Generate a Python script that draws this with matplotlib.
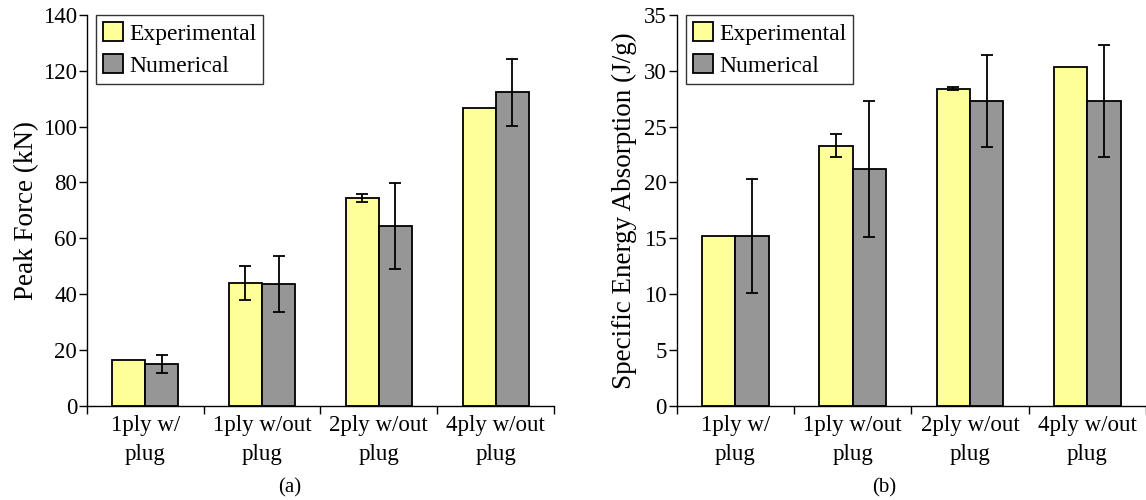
import numpy as np
import matplotlib
matplotlib.use("Agg")
import matplotlib.pyplot as plt

plt.rcParams['font.family'] = ['Liberation Serif', 'DejaVu Serif']

categories = ["1ply w/\nplug", "1ply w/out\nplug", "2ply w/out\nplug", "4ply w/out\nplug"]

# (a) peak force, kN
force_exp = [16.5, 44.0, 74.3, 106.8]
force_exp_err = [0, 6.0, 1.4, 0]
force_num = [14.8, 43.5, 64.4, 112.3]
force_num_err = [3.2, 10.0, 15.5, 12.0]

# (b) specific energy absorption, J/g
sea_exp = [15.2, 23.3, 28.4, 30.3]
sea_exp_err = [0, 1.0, 0.15, 0]
sea_num = [15.2, 21.2, 27.3, 27.3]
sea_num_err = [5.1, 6.1, 4.1, 5.0]

YELLOW = "#FFFF99"
GRAY = "#969696"

fig = plt.figure(figsize=(11.46, 5.0), dpi=100)
ax1 = fig.add_axes([0.0757, 0.1886, 0.4078, 0.7814])
ax2 = fig.add_axes([0.5905, 0.1886, 0.4095, 0.7814])

def draw(ax, exp, exp_err, num, num_err, ymax, ystep, ylabel, lpad, xmax):
    x = np.arange(len(categories))
    w = 0.283
    ekw = dict(ecolor="black", elinewidth=1.3, capsize=4.5, capthick=1.3)
    ax.bar(x - w / 2, exp, w, color=YELLOW, edgecolor="black", linewidth=1.3,
           label="Experimental", zorder=2)
    ax.bar(x + w / 2, num, w, color=GRAY, edgecolor="black", linewidth=1.3,
           label="Numerical", zorder=2)
    ee = np.array(exp_err, dtype=float)
    mask = ee > 0
    ax.errorbar((x - w / 2)[mask], np.array(exp)[mask], yerr=ee[mask], fmt="none", zorder=3, **ekw)
    ax.errorbar(x + w / 2, num, yerr=num_err, fmt="none", zorder=3, **ekw)

    ax.set_xlim(-0.5, xmax)
    ax.set_ylim(0, ymax)
    ax.set_yticks(np.arange(0, ymax + 0.1, ystep))
    ax.set_xticks(x)
    ax.set_xticklabels(categories, fontsize=16.5, linespacing=1.45)
    ax.tick_params(axis="x", length=0, pad=7)
    ax.set_xticks(np.arange(-0.5, len(categories) + 0.5, 1.0), minor=True)
    ax.tick_params(axis="x", which="minor", length=6, width=1.0, direction="out")
    ax.tick_params(axis="y", length=6, width=1.0, direction="out", labelsize=16.5, pad=1)
    ax.set_ylabel(ylabel, fontsize=19.5, labelpad=lpad)
    for s in ["top", "right"]:
        ax.spines[s].set_visible(False)
    ax.spines["left"].set_linewidth(1.0)
    ax.spines["bottom"].set_linewidth(1.0)
    leg = ax.legend(loc="upper left", bbox_to_anchor=(0.02, 1.0), fontsize=17,
                    frameon=True, fancybox=False, edgecolor="black",
                    handlelength=0.85, handleheight=0.85, handletextpad=0.25,
                    borderpad=0.3, labelspacing=0.4, borderaxespad=0.0)
    leg.get_frame().set_linewidth(1.0)

draw(ax1, force_exp, force_exp_err, force_num, force_num_err, 140, 20,
     "Peak Force (kN)", 3, 3.5)
draw(ax2, sea_exp, sea_exp_err, sea_num, sea_num_err, 35, 5,
     "Specific Energy Absorption (J/g)", 5, 3.454)

fig.text(290 / 1146, 1 - 488 / 500, "(a)", ha="center", va="center", fontsize=15)
fig.text(884 / 1146, 1 - 488 / 500, "(b)", ha="center", va="center", fontsize=15)

fig.savefig("out.png", dpi=100)
